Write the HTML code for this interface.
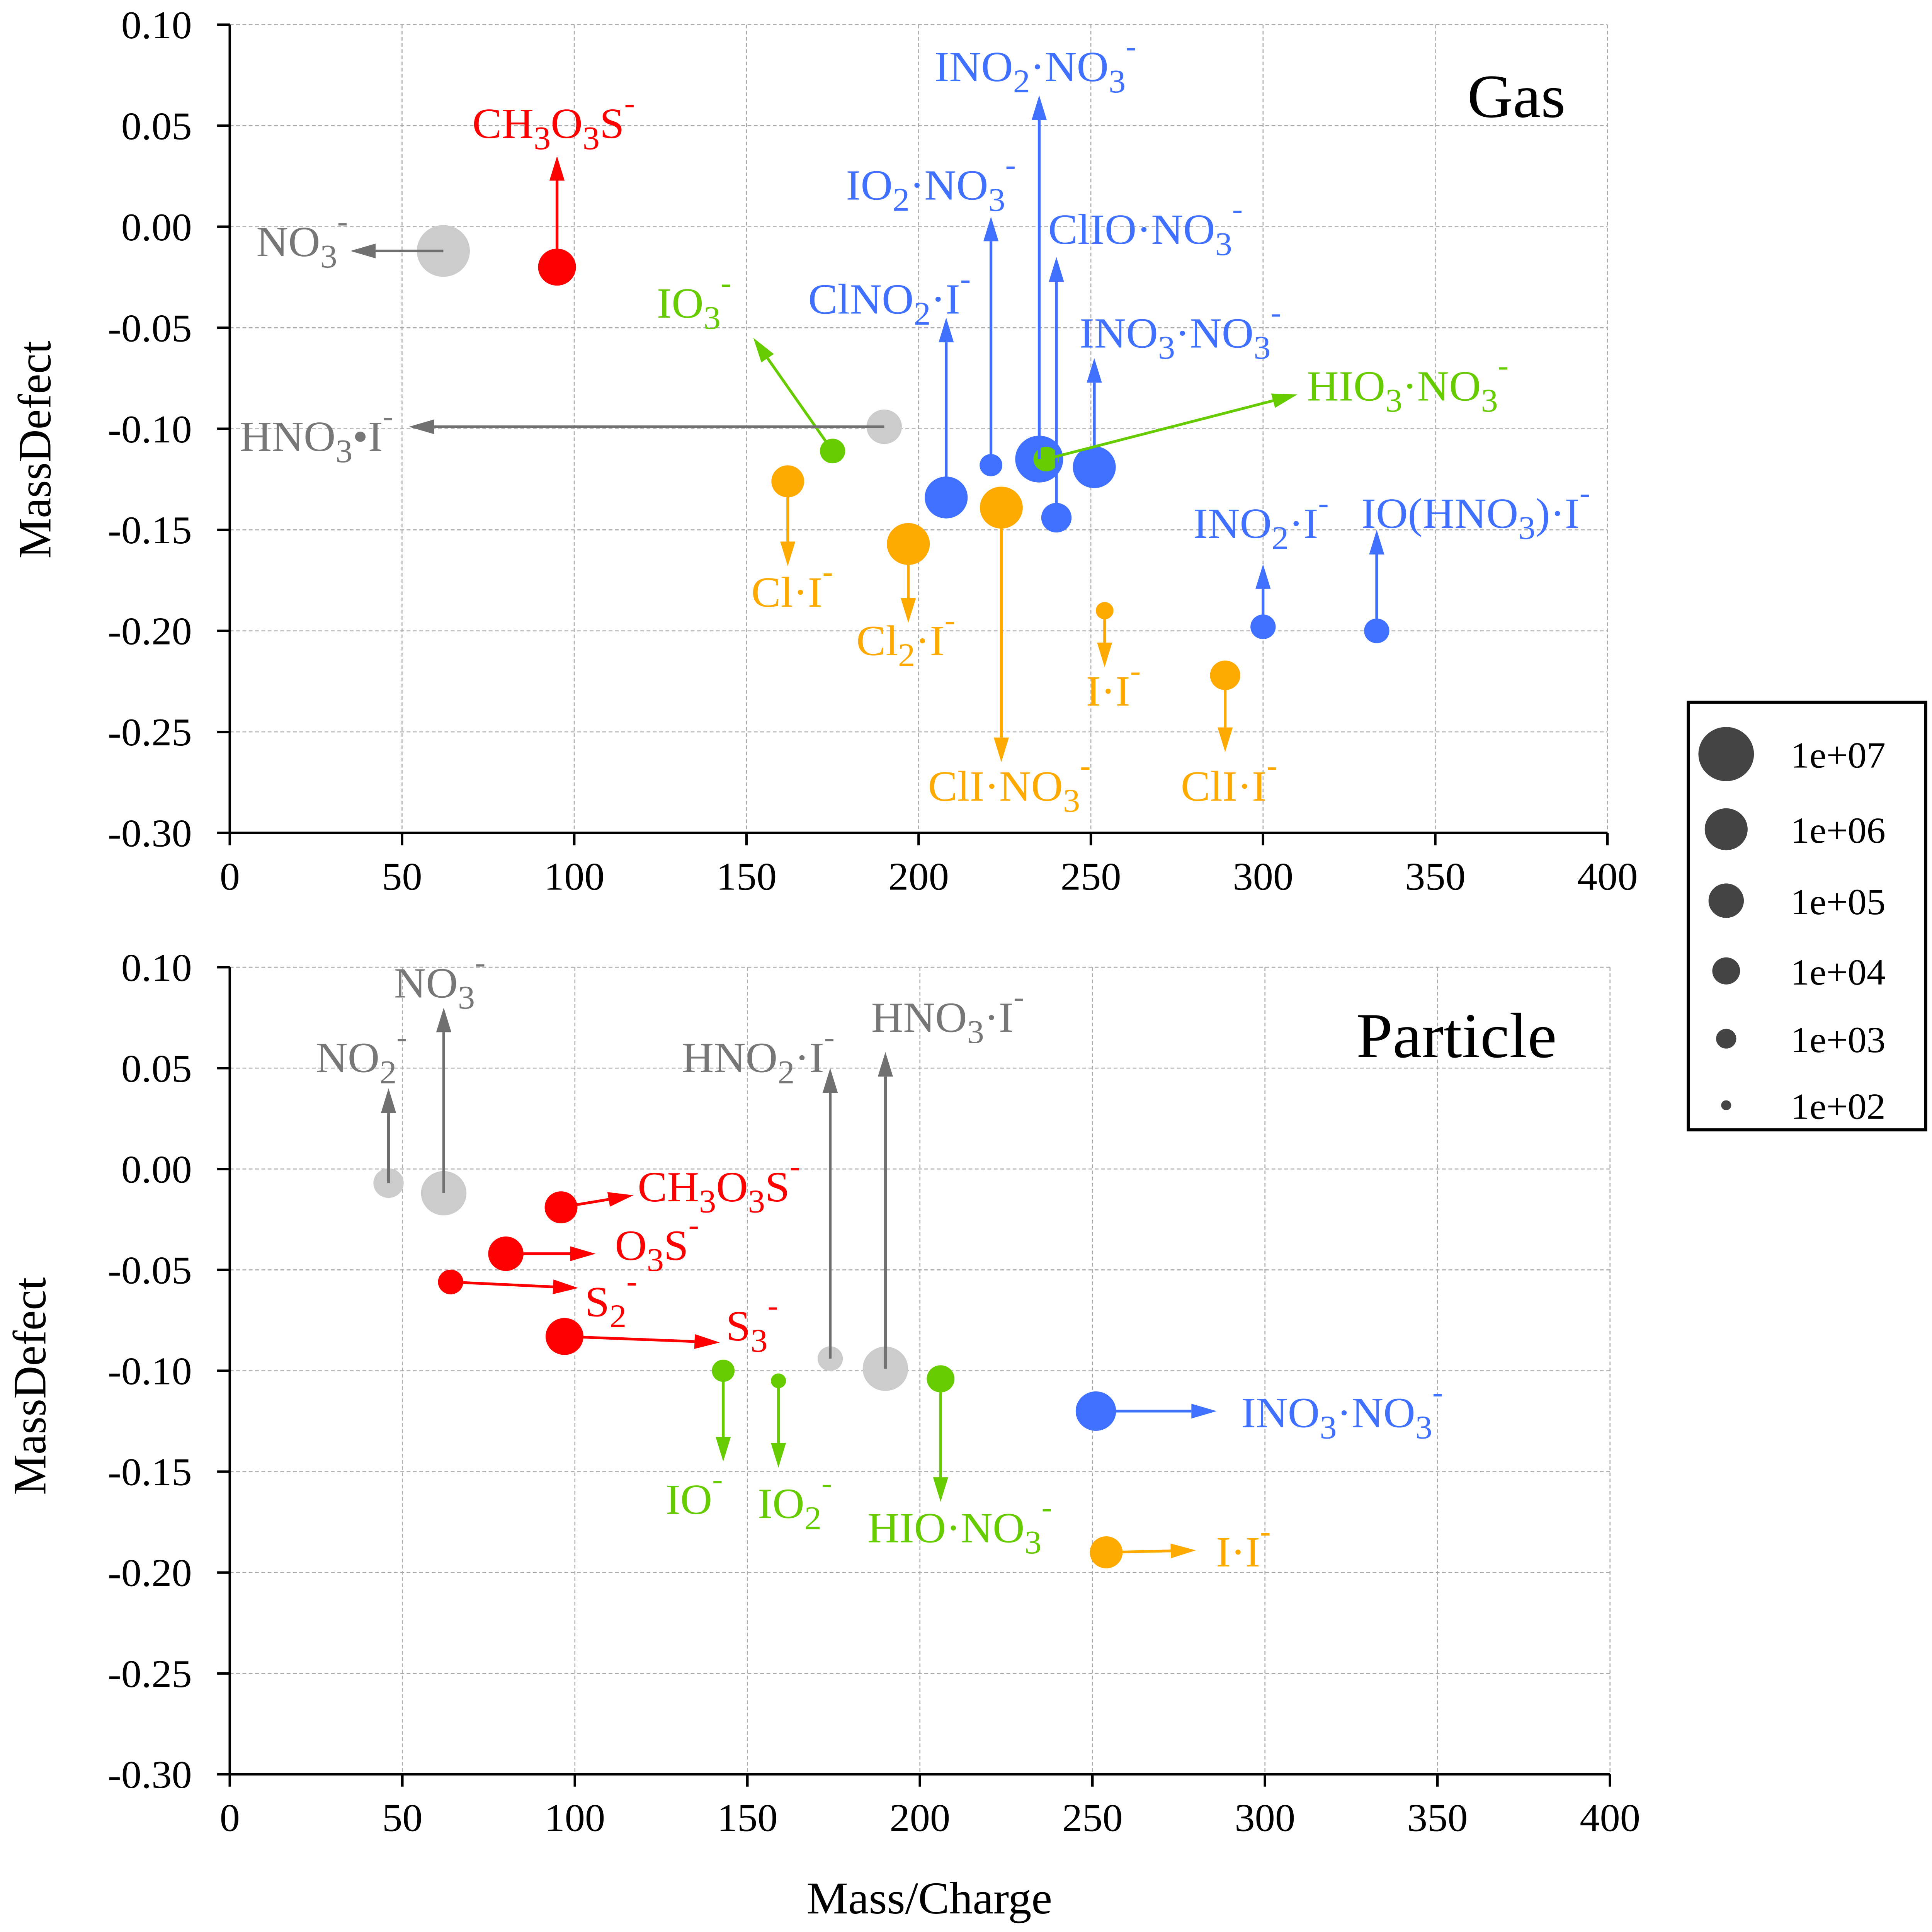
<!DOCTYPE html>
<html><head><meta charset="utf-8"><style>
html,body{margin:0;padding:0;background:#fff;overflow:hidden;width:100%;height:100%;}
svg{display:block;width:100vw;height:100vh;}
text{font-family:"Liberation Serif",serif;}
</style></head><body>
<svg id="chart" viewBox="0 0 1530 1568" preserveAspectRatio="none" xmlns="http://www.w3.org/2000/svg">
<rect x="0" y="0" width="1530" height="1568" fill="#fff"/>
</svg>
<script>
// ---- data ----
const xTicks = [0,50,100,150,200,250,300,350,400];
const yTicks = [0.10,0.05,0.00,-0.05,-0.10,-0.15,-0.20,-0.25,-0.30];
const yTickLabels = ["0.10","0.05","0.00","-0.05","-0.10","-0.15","-0.20","-0.25","-0.30"];
const legendLabels = ["1e+07","1e+06","1e+05","1e+04","1e+03","1e+02"];
const legendRadii = [22,17,14,11,8,4];

// gas panel
const gasNames = ["NO_3^-","CH_3O_3S^-","IO_3^-","HNO_3•I^-","Cl·I^-","Cl_2·I^-","ClNO_2·I^-","IO_2·NO_3^-","INO_2·NO_3^-","ClI·NO_3^-","ClIO·NO_3^-","INO_3·NO_3^-","HIO_3·NO_3^-","I·I^-","ClI·I^-","INO_2·I^-","IO(HNO_3)·I^-"];
const gasColor = ["gray","red","green","gray","orange","orange","blue","blue","blue","orange","blue","blue","green","orange","orange","blue","blue"];
const gasMass = [62,95,175,190,162,197,208,221,235,224,240,251,237,254,289,300,333];
const gasDefect = [-0.012,-0.020,-0.111,-0.099,-0.126,-0.157,-0.134,-0.118,-0.115,-0.139,-0.144,-0.119,-0.115,-0.190,-0.222,-0.198,-0.200];
const gasRadius = [21,15,10,14,13,17,17,9,19,17,12,17,10,7,12,10,10];
const gasArrowX = [35,95,152,52,162,197,208,221,235,224,240,251,310,254,289,300,333];
const gasArrowY = [-0.012,0.035,-0.055,-0.099,-0.168,-0.196,-0.045,0.005,0.065,-0.265,-0.015,-0.065,-0.083,-0.218,-0.260,-0.167,-0.150];
const gasLabelX = [7.7,70.4,124,2.9,151.4,181.9,167.9,178.9,204.6,202.7,237.6,246.7,312.7,248.6,276.1,279.7,328.5];
const gasLabelY = [-0.0146,0.0439,-0.045,-0.111,-0.188,-0.212,-0.043,0.0134,0.072,-0.284,-0.0085,-0.0598,-0.086,-0.237,-0.284,-0.154,-0.149];

// particle panel
const parNames = ["NO_2^-","NO_3^-","CH_3O_3S^-","O_3S^-","S_2^-","S_3^-","HNO_2·I^-","HNO_3·I^-","IO^-","IO_2^-","HIO·NO_3^-","INO_3·NO_3^-","I·I^-"];
const parColor = ["gray","gray","red","red","red","red","gray","gray","green","green","green","blue","orange"];
const parMass = [46,62,96,80,64,97,174,190,143,159,206,251,254];
const parDefect = [-0.007,-0.012,-0.019,-0.042,-0.056,-0.083,-0.094,-0.099,-0.100,-0.105,-0.104,-0.120,-0.190];
const parRadius = [12,18,13,14,10,15,10,18,9,6,11,16,13];
const parArrowX = [46,62,117,106,101,142,174,190,143,159,206,286,280];
const parArrowY = [0.040,0.080,-0.013,-0.042,-0.059,-0.086,0.050,0.058,-0.145,-0.148,-0.165,-0.120,-0.189];
const parLabelX = [24.9,47.6,118.2,111.6,102.9,143.8,131,185.9,126.3,153,184.8,293.1,285.8];
const parLabelY = [0.048,0.085,-0.016,-0.045,-0.073,-0.085,0.048,0.068,-0.171,-0.173,-0.185,-0.128,-0.197];

// ---- rendering ----
const NS = "http://www.w3.org/2000/svg";
const svg = document.getElementById("chart");
const dotFill = {gray:"#cccccc",red:"#ff0000",green:"#66cc00",orange:"#ffaa00",blue:"#4070ff"};
const arrowCol = {gray:"#707070",red:"#ff0000",green:"#66cc00",orange:"#ffaa00",blue:"#4070ff"};
const labelCol = {gray:"#777777",red:"#ff0000",green:"#66cc00",orange:"#ffaa00",blue:"#4070ff"};

function mk(tag, attrs, parent){
  const e = document.createElementNS(NS, tag);
  for (const k in attrs) e.setAttribute(k, attrs[k]);
  (parent||svg).appendChild(e);
  return e;
}

function panel(name, left, right, top, bottom, names, colors, mass, defect, radius, ax, ay, lx, ly, title, titleX, titleY, titleSize){
  const g = mk("g", {});
  
  
  const X = v => left + (v - 0) / 400 * (right - left);
  const Y = v => top + (0.10 - v) / 0.40 * (bottom - top);
  xTicks.forEach(t => {
    if (t === 0) return;
    const l = mk("line", {x1:X(t), x2:X(t), y1:top, y2:bottom, stroke:"#aaa", "stroke-width":0.8, "stroke-dasharray":"3,2"}, g);
    
    
  });
  yTicks.forEach(t => {
    if (Math.abs(t + 0.30) < 1e-9) return;
    const l = mk("line", {x1:left, x2:right, y1:Y(t), y2:Y(t), stroke:"#aaa", "stroke-width":0.8, "stroke-dasharray":"3,2"}, g);
    
    
  });
  const xa = mk("line", {x1:left, x2:right, y1:bottom, y2:bottom, stroke:"#000", "stroke-width":2}, g);
  
  
  const ya = mk("line", {x1:left, x2:left, y1:top, y2:bottom, stroke:"#000", "stroke-width":2}, g);
  
  
  xTicks.forEach(t => {
    mk("line", {x1:X(t), x2:X(t), y1:bottom, y2:bottom+10, stroke:"#000", "stroke-width":2}, g);
    const tx = mk("text", {x:X(t), y:bottom+46, "font-size":32, "text-anchor":"middle"}, g);
    tx.textContent = t;
    
    
  });
  yTicks.forEach((t,i) => {
    mk("line", {x1:left-10, x2:left, y1:Y(t), y2:Y(t), stroke:"#000", "stroke-width":2}, g);
    const tx = mk("text", {x:left-30, y:Y(t)+11, "font-size":32, "text-anchor":"end"}, g);
    tx.textContent = yTickLabels[i];
    
    
  });
  const tt = mk("text", {x:titleX, y:titleY, "font-size":titleSize}, g);
  tt.textContent = title;
  
  
  for (let i = 0; i < names.length; i++){
    const c = colors[i];
    const dot = mk("circle", {cx:X(mass[i]), cy:Y(defect[i]), r:radius[i], fill:dotFill[c]}, g);
    
    
  }
  for (let i = 0; i < names.length; i++){
    const c = colors[i];
    const x1 = X(mass[i]), y1 = Y(defect[i]);
    const x2 = X(ax[i]), y2 = Y(ay[i]);
    const dx = x2-x1, dy = y2-y1, L = Math.hypot(dx,dy);
    const ux = dx/L, uy = dy/L, hl = 20, hw = 6;
    const bx = x2 - ux*hl, by = y2 - uy*hl;
    const ln = mk("line", {x1:x1, y1:y1, x2:bx, y2:by, stroke:arrowCol[c], "stroke-width":2.2}, g);
    
    
    const hd = mk("polygon", {points:`${x2},${y2} ${bx-uy*hw},${by+ux*hw} ${bx+uy*hw},${by-ux*hw}`, fill:arrowCol[c]}, g);
    
    
    const t = mk("text", {x:X(lx[i]), y:Y(ly[i]), "font-size":35, fill:labelCol[c]}, g);
    
    
    const s = names[i];
    let buf = "";
    const flush = () => { if (buf){ const sp = mk("tspan", {}, t); sp.textContent = buf; buf = ""; } };
    for (let k = 0; k < s.length; k++){
      const ch = s[k];
      if (ch === "_"){ flush(); const sp = mk("tspan", {dy:9, "font-size":27}, t); sp.textContent = s[k+1]; const back = mk("tspan", {dy:-9}, t); back.textContent = "\u200B"; k++; }
      else if (ch === "^"){ flush(); const sp = mk("tspan", {dy:-20, "font-size":25}, t); sp.textContent = s[k+1]; const back = mk("tspan", {dy:20}, t); back.textContent = "\u200B"; k++; }
      else buf += ch;
    }
    flush();
  }
}

panel("gas", 182, 1273, 20, 676, gasNames, gasColor, gasMass, gasDefect, gasRadius, gasArrowX, gasArrowY, gasLabelX, gasLabelY, "Gas", 1162, 95, 50);
panel("particle", 182, 1275, 785, 1440, parNames, parColor, parMass, parDefect, parRadius, parArrowX, parArrowY, parLabelX, parLabelY, "Particle", 1074, 858, 52);

const yt1 = mk("text", {x:0, y:0, "font-size":37, "text-anchor":"middle", transform:"translate(40,365) rotate(-90)"});
yt1.textContent = "MassDefect";


const yt2 = mk("text", {x:0, y:0, "font-size":37, "text-anchor":"middle", transform:"translate(36,1125) rotate(-90)"});
yt2.textContent = "MassDefect";


const xt = mk("text", {x:736, y:1553, "font-size":37, "text-anchor":"middle"});
xt.textContent = "Mass/Charge";



const lg = mk("g", {});


mk("rect", {x:1337, y:570, width:188, height:347, fill:"#fff", stroke:"#000", "stroke-width":2.5}, lg);
legendLabels.forEach((lab, i) => {
  const cy = [612,673,731,788,843,897][i];
  const c = mk("circle", {cx:1367, cy:cy, r:legendRadii[i], fill:"#444"}, lg);
  
  
  const t = mk("text", {x:1418, y:cy+11, "font-size":30}, lg);
  t.textContent = lab;
  
  
});
</script>
</body></html>
